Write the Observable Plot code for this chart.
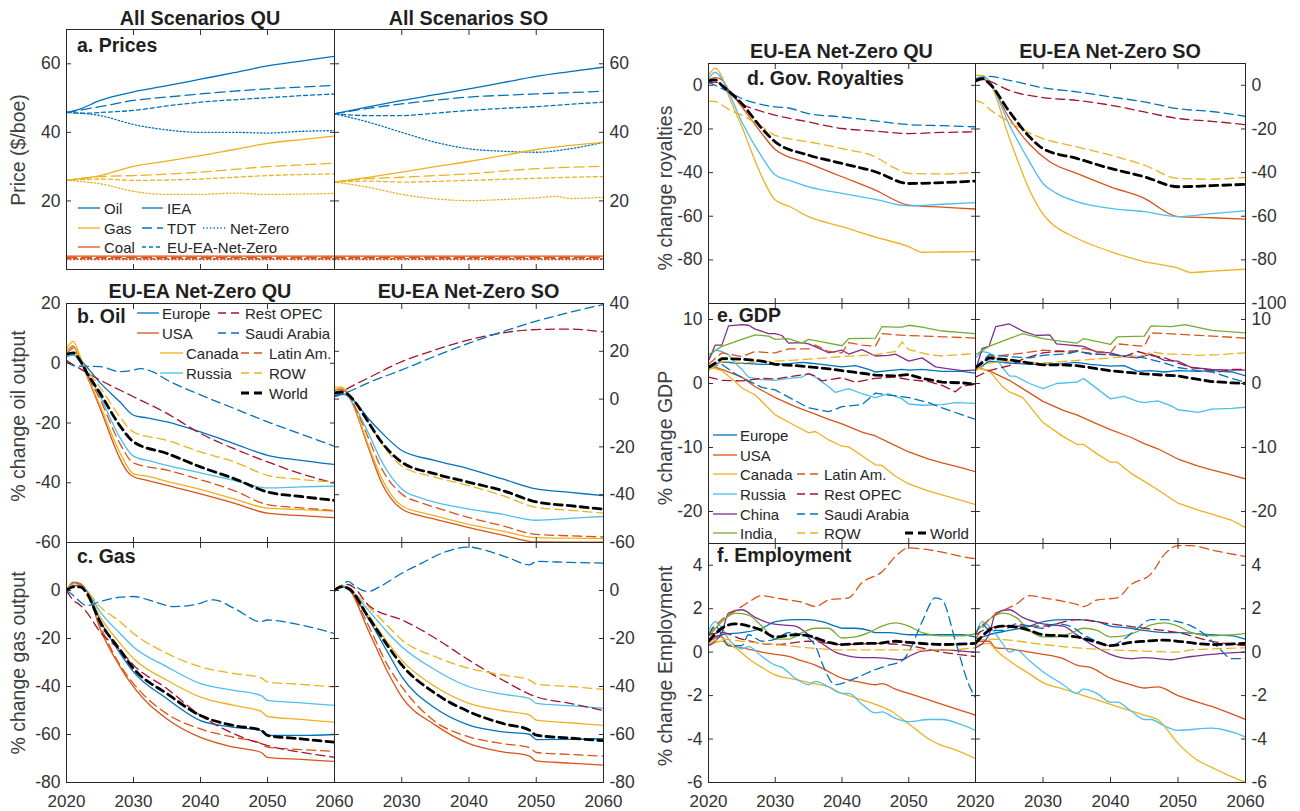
<!DOCTYPE html>
<html><head><meta charset="utf-8">
<script src="https://cdn.jsdelivr.net/npm/d3@7"></script>
<script src="https://cdn.jsdelivr.net/npm/@observablehq/plot@0.6"></script>
<style>
body{margin:0;background:#fff;}
#fig{position:relative;width:1300px;height:811px;overflow:hidden;background:#fff}
#fig svg{position:absolute;background:transparent;}
</style></head>
<body><div id="fig"></div>
<script>
// ---------------- DATA ----------------
const xTicks = [2020, 2030, 2040, 2050, 2060];

// a. Prices ($/boe)
const priceQU = {
  "Oil IEA": [[2020,45.8],[2022,46.8],[2025,49.3],[2030,51.8],[2035,53.6],[2040,55.5],[2045,57.4],[2050,59.4],[2055,60.8],[2060,62.2]],
  "Oil TDT": [[2020,45.8],[2025,47.5],[2030,49.3],[2035,50.3],[2040,51.2],[2045,52],[2050,52.7],[2055,53.2],[2060,53.7]],
  "Oil EU-EA-Net-Zero": [[2020,45.8],[2023,45.6],[2026,45.9],[2030,46.4],[2035,47.7],[2040,48.8],[2045,49.5],[2050,50.1],[2055,50.7],[2060,51.2]],
  "Oil Net-Zero": [[2020,45.8],[2025,44.9],[2030,42.3],[2035,40.7],[2040,40.0],[2045,40.0],[2050,39.8],[2055,40.3],[2060,40.5]],
  "Gas IEA": [[2020,26],[2025,27.4],[2030,30.1],[2035,31.6],[2040,33.2],[2045,35],[2050,36.8],[2055,37.9],[2060,38.9]],
  "Gas TDT": [[2020,26],[2025,27.1],[2030,27.4],[2035,27.8],[2040,28.4],[2045,29.2],[2050,30],[2055,30.5],[2060,31]],
  "Gas EU-EA-Net-Zero": [[2020,26],[2025,26.4],[2030,26],[2035,26.1],[2040,26.4],[2045,26.9],[2050,27.4],[2055,27.7],[2060,27.9]],
  "Gas Net-Zero": [[2020,26],[2025,25],[2030,22.8],[2035,21.9],[2040,21.9],[2045,22.3],[2050,21.9],[2055,22],[2060,22.2]],
  "Coal IEA": [[2020,3.9],[2060,3.9]],
  "Coal TDT": [[2020,3.5],[2060,3.5]],
  "Coal EU-EA-Net-Zero": [[2020,3.2],[2060,3.2]],
  "Coal Net-Zero": [[2020,2.9],[2060,2.9]]
};
const priceSO = {
  "Oil IEA": [[2020,45.4],[2025,47.4],[2030,49.3],[2035,51],[2040,52.7],[2045,54.5],[2050,56.3],[2055,57.7],[2060,59.0]],
  "Oil TDT": [[2020,45.4],[2025,47],[2030,48.3],[2035,49.4],[2040,50.3],[2045,50.8],[2050,51.2],[2055,51.6],[2060,52.0]],
  "Oil EU-EA-Net-Zero": [[2020,45.4],[2025,44.9],[2030,44.9],[2035,45.6],[2040,46.4],[2045,47],[2050,47.5],[2055,48.2],[2060,48.8]],
  "Oil Net-Zero": [[2020,45.4],[2025,43.0],[2030,40.0],[2035,37.1],[2040,35.2],[2045,34.5],[2050,34.2],[2055,35.2],[2060,37.1]],
  "Gas IEA": [[2020,25.5],[2025,26.9],[2030,28.4],[2035,30],[2040,31.5],[2045,33.2],[2050,35],[2055,36.2],[2060,37.1]],
  "Gas TDT": [[2020,25.5],[2025,26.5],[2030,26.9],[2035,27.4],[2040,27.9],[2045,28.7],[2050,29.4],[2055,29.8],[2060,30.1]],
  "Gas EU-EA-Net-Zero": [[2020,25.5],[2025,25.8],[2030,25.5],[2035,25.7],[2040,26],[2045,26.3],[2050,26.6],[2055,26.9],[2060,27.1]],
  "Gas Net-Zero": [[2020,25.5],[2025,24.0],[2030,21.9],[2035,20.6],[2040,20.1],[2045,20.4],[2050,20.9],[2053,21.3],[2055,20.7],[2060,21.1]],
  "Coal IEA": [[2020,3.9],[2060,3.9]],
  "Coal TDT": [[2020,3.5],[2060,3.5]],
  "Coal EU-EA-Net-Zero": [[2020,3.2],[2060,3.2]],
  "Coal Net-Zero": [[2020,2.9],[2060,2.9]]
};

// b. Oil output (% change)
const oilQU = {
  Europe: [[2020,2.2],[2021,2.8],[2022,1.2],[2025,-6.5],[2028,-13],[2030,-17.4],[2032,-18.3],[2035,-19.6],[2040,-23],[2045,-26.9],[2050,-30.8],[2055,-32.5],[2060,-33.9]],
  USA: [[2020,4],[2021,5.6],[2022,1.5],[2023,-4],[2025,-15],[2028,-32],[2029,-36],[2030,-38],[2032,-39.2],[2035,-40.9],[2040,-43.7],[2045,-46.8],[2050,-50.2],[2055,-51],[2060,-51.7]],
  Canada: [[2020,5],[2021,7.3],[2022,2.5],[2023,-3.5],[2025,-14],[2028,-30],[2030,-37],[2032,-37.8],[2035,-39.5],[2040,-42.2],[2045,-45.4],[2050,-48.5],[2055,-49],[2060,-49.5]],
  Russia: [[2020,2.2],[2021,3],[2022,0.5],[2023,-3],[2025,-11],[2028,-25],[2030,-31.1],[2033,-33],[2035,-34.2],[2040,-36.7],[2045,-39.2],[2050,-41.7],[2055,-41.4],[2060,-41.1]],
  "Latin Am.": [[2020,3],[2021,5],[2022,1],[2023,-3.5],[2025,-12],[2028,-27],[2030,-33.4],[2035,-35.8],[2040,-39],[2045,-42.6],[2050,-47.3],[2055,-48.4],[2060,-49.3]],
  "Rest OPEC": [[2020,1],[2021,-0.5],[2022,-1.8],[2025,-5.6],[2030,-11.2],[2035,-16.8],[2040,-23.5],[2045,-28.6],[2050,-33],[2055,-37],[2060,-40.1]],
  "Saudi Arabia": [[2020,0.5],[2021,-0.8],[2022,-1],[2025,-1.1],[2028,-2.8],[2030,-2.3],[2031,-1.8],[2033,-3],[2035,-5.6],[2040,-10.6],[2045,-15.1],[2050,-19.6],[2055,-23.7],[2060,-27.8]],
  ROW: [[2020,4],[2021,6],[2022,1.5],[2023,-2],[2025,-8],[2028,-18],[2030,-23],[2035,-25.8],[2040,-29.7],[2045,-33],[2050,-37.5],[2055,-38.9],[2060,-39.8]],
  World: [[2020,3],[2021,3.5],[2022,1],[2023,-3],[2025,-10],[2028,-21],[2030,-26.3],[2035,-30.2],[2040,-34.7],[2045,-38.6],[2050,-43.1],[2055,-44.6],[2060,-45.9]]
};
const oilSO = {
  Europe: [[2020,1.5],[2021,2],[2022,1.5],[2023,-1],[2025,-8],[2027,-14],[2030,-21.5],[2035,-25.7],[2040,-29.2],[2045,-33.4],[2050,-37.6],[2055,-39],[2060,-40.4]],
  USA: [[2020,4],[2021,4],[2022,2],[2023,-4],[2025,-20],[2027,-35],[2030,-46],[2033,-49],[2035,-50.3],[2040,-53.8],[2045,-56.9],[2050,-59.8],[2055,-59.9],[2060,-59.9]],
  Canada: [[2020,5],[2021,5],[2022,2.5],[2023,-3.5],[2025,-19],[2027,-33],[2030,-44.6],[2033,-47.5],[2035,-48.9],[2040,-52.4],[2045,-55.2],[2050,-58],[2055,-58.2],[2060,-58.4]],
  Russia: [[2020,2],[2021,2.5],[2022,1],[2023,-3],[2025,-14],[2027,-26],[2030,-37.6],[2033,-41.5],[2035,-43.2],[2040,-46],[2045,-48.2],[2050,-50.7],[2055,-49.9],[2060,-49.1]],
  "Latin Am.": [[2020,3.5],[2021,4.5],[2022,2],[2023,-3],[2025,-16],[2027,-29],[2030,-39.7],[2033,-43.5],[2035,-45.3],[2040,-49.6],[2045,-53],[2050,-56.6],[2055,-57.2],[2060,-57.7]],
  "Rest OPEC": [[2020,1],[2022,4.5],[2025,8.8],[2030,15.7],[2035,20.6],[2040,24.8],[2045,27.7],[2050,29.1],[2055,29.3],[2060,28.1]],
  "Saudi Arabia": [[2020,1],[2022,3],[2025,6.8],[2030,12.2],[2035,18],[2040,23.4],[2045,28.2],[2050,32.6],[2055,36.3],[2060,39.6]],
  ROW: [[2020,4],[2021,4.5],[2022,2.5],[2023,-1],[2025,-9.5],[2027,-18.5],[2030,-28],[2035,-32.7],[2040,-36.2],[2045,-40.4],[2050,-45.3],[2055,-46.5],[2060,-47.7]],
  World: [[2020,2.5],[2021,3],[2022,2],[2023,-1],[2025,-9.5],[2027,-18],[2030,-26.4],[2035,-31.3],[2040,-34.8],[2045,-38.3],[2050,-43],[2055,-44.6],[2060,-46]]
};

// c. Gas output (% change)
const gasQU = {
  Europe: [[2020,0],[2021,2],[2022,2],[2023,0],[2025,-12.3],[2028,-26.2],[2030,-33.9],[2035,-45.1],[2040,-54.2],[2045,-57],[2049,-58.4],[2050,-60.4],[2055,-60.4],[2060,-60]],
  USA: [[2020,0],[2021,3.5],[2022,3],[2023,0],[2025,-15.8],[2028,-31.8],[2030,-40.2],[2035,-53.5],[2040,-61.2],[2045,-65.3],[2049,-67.4],[2050,-69.5],[2055,-70.4],[2060,-71.2]],
  Canada: [[2020,0],[2021,3],[2022,2.5],[2023,0],[2025,-10.9],[2028,-22],[2030,-28.3],[2035,-37.4],[2040,-44.4],[2045,-47.9],[2049,-50.3],[2050,-52.5],[2055,-53.7],[2060,-54.9]],
  Russia: [[2020,0],[2021,3],[2022,2.5],[2023,0],[2025,-8.8],[2028,-17.9],[2030,-23.5],[2035,-31.8],[2040,-38.8],[2045,-41.6],[2049,-43.7],[2050,-45.8],[2055,-46.8],[2060,-47.9]],
  "Latin Am.": [[2020,0],[2021,3],[2022,2.5],[2023,0],[2025,-14.4],[2028,-31.1],[2030,-38.8],[2035,-51.4],[2040,-57.7],[2045,-61.2],[2049,-63.7],[2050,-65.3],[2055,-66.3],[2060,-67]],
  "Rest OPEC": [[2020,0],[2021,-4],[2022,-6],[2023,-9],[2025,-17.2],[2028,-24.8],[2030,-31.1],[2035,-40.9],[2040,-52.1],[2045,-59.7],[2050,-64.6],[2055,-67.4],[2060,-69.5]],
  "Saudi Arabia": [[2020,0],[2021,-2],[2022,-4.6],[2023,-6.3],[2025,-4.6],[2028,-2.8],[2030,-2.5],[2033,-4.6],[2036,-6.7],[2039,-6],[2042,-3.9],[2045,-7.4],[2049,-13],[2050,-12.3],[2055,-14.4],[2060,-17.9]],
  ROW: [[2020,0],[2021,2.5],[2022,2],[2023,0],[2025,-6.7],[2028,-13],[2030,-17.9],[2035,-26.2],[2040,-31.8],[2045,-34.6],[2049,-36.3],[2050,-38.1],[2055,-39.1],[2060,-40.2]],
  World: [[2020,0],[2021,1.5],[2022,1.5],[2023,-1],[2025,-13],[2028,-24.8],[2030,-32.5],[2035,-43],[2040,-52.1],[2045,-56.3],[2049,-58.1],[2050,-60.4],[2055,-61.8],[2060,-63.2]]
};
const gasSO = {
  Europe: [[2020,0],[2021,1.5],[2022,0.5],[2025,-11.6],[2028,-26.2],[2030,-35.9],[2035,-49.1],[2040,-56.1],[2045,-58.9],[2049,-59.9],[2050,-62.1],[2055,-62],[2060,-61.7]],
  USA: [[2020,0],[2021,2],[2022,1],[2025,-16.4],[2028,-34.5],[2030,-44.3],[2035,-56.1],[2040,-63.8],[2045,-67.2],[2049,-69],[2050,-71],[2055,-71.9],[2060,-72.8]],
  Canada: [[2020,0],[2021,2],[2022,1],[2025,-10.2],[2028,-22],[2030,-29],[2035,-40.1],[2040,-47],[2045,-50.1],[2049,-51.9],[2050,-54],[2055,-55.1],[2060,-56.2]],
  Russia: [[2020,0],[2021,2],[2022,1],[2025,-8.1],[2028,-17.8],[2030,-23.4],[2035,-33.1],[2040,-40.1],[2045,-43.2],[2049,-45],[2050,-47],[2055,-48],[2060,-49.1]],
  "Latin Am.": [[2020,0],[2021,2],[2022,1],[2025,-14.3],[2028,-31.7],[2030,-40.1],[2035,-54.7],[2040,-61],[2045,-63.8],[2049,-65.4],[2050,-67.5],[2055,-68.3],[2060,-69]],
  "Rest OPEC": [[2020,0],[2021,2],[2022,2.5],[2023,1],[2025,-6],[2026,-8],[2030,-12.2],[2035,-19.9],[2040,-29],[2045,-37.3],[2050,-44.3],[2055,-47],[2060,-50.1]],
  "Saudi Arabia": [[2020,0],[2021,2],[2022,3.8],[2023,2],[2024,0.3],[2025,-0.4],[2027,2],[2030,7.2],[2033,11.4],[2036,15.6],[2040,18.1],[2043,16.3],[2046,13.5],[2049,10.7],[2050,12.1],[2055,11.7],[2060,11.4]],
  ROW: [[2020,0],[2021,2],[2022,1],[2025,-6.7],[2028,-15],[2030,-20.6],[2035,-27.6],[2040,-32.4],[2045,-35.2],[2049,-37.3],[2050,-39],[2055,-40],[2060,-41.2]],
  World: [[2020,0],[2021,1.5],[2022,1],[2025,-10.9],[2028,-23.4],[2030,-31],[2035,-42.9],[2040,-50.5],[2045,-55.4],[2049,-58.2],[2050,-60.3],[2055,-61.5],[2060,-62.6]]
};

// d. Government royalties (% change)
const royQU = {
  USA: [[2020,2.5],[2021,3.5],[2022,2.5],[2023,-2],[2025,-9.9],[2028,-22.1],[2030,-29.4],[2035,-35.8],[2040,-41.9],[2045,-48],[2050,-54.9],[2055,-55.8],[2060,-56.7]],
  Canada: [[2020,4.5],[2021,7.9],[2022,4],[2023,-4.6],[2025,-19],[2028,-41.9],[2030,-52.6],[2032,-55.3],[2035,-60.2],[2040,-64.8],[2045,-69.6],[2050,-73.9],[2052,-76.5],[2055,-76.4],[2060,-76.2]],
  Russia: [[2020,3],[2021,6],[2022,3],[2023,-3],[2025,-16.8],[2028,-32.8],[2030,-41.1],[2032,-43.4],[2035,-46.5],[2040,-49.5],[2045,-52.3],[2050,-55.3],[2055,-54.5],[2060,-53.8]],
  "Rest OPEC": [[2020,1],[2021,1.5],[2022,0],[2025,-8.4],[2028,-12],[2030,-13.7],[2035,-16.8],[2040,-19.8],[2045,-21],[2050,-22.1],[2055,-21.6],[2060,-21.3]],
  "Saudi Arabia": [[2020,1.5],[2021,0],[2023,-3],[2025,-6.1],[2028,-8.8],[2030,-9.9],[2032,-10.4],[2035,-13],[2040,-14.5],[2045,-16.3],[2050,-18],[2055,-18.5],[2060,-19]],
  ROW: [[2020,-7.2],[2021,-7.5],[2022,-9],[2023,-11],[2025,-13.7],[2028,-19],[2030,-22.9],[2035,-25.9],[2040,-29],[2045,-32.8],[2048,-38.1],[2050,-40.4],[2055,-40.6],[2060,-39.9]],
  World: [[2020,2],[2021,2.5],[2022,0],[2025,-8.4],[2028,-19.8],[2030,-25.9],[2035,-32],[2040,-35.8],[2045,-39.6],[2050,-45],[2055,-44.6],[2060,-43.9]]
};
const roySO = {
  USA: [[2020,2],[2021,3],[2022,1],[2025,-15],[2028,-27],[2031,-35],[2035,-40.4],[2040,-46.5],[2045,-51.8],[2050,-60.2],[2055,-60.7],[2060,-61.3]],
  Canada: [[2020,4.5],[2021,4.5],[2022,2],[2025,-24],[2028,-48],[2030,-59],[2031,-62.5],[2035,-70.1],[2040,-76.2],[2045,-80.8],[2050,-83.8],[2052,-85.8],[2055,-85.2],[2060,-84.3]],
  Russia: [[2020,3],[2021,4],[2022,2],[2025,-18],[2028,-35],[2030,-45],[2032,-49.5],[2035,-53.3],[2040,-56.4],[2045,-57.9],[2050,-60.2],[2055,-58.8],[2060,-57.5]],
  "Rest OPEC": [[2020,2],[2021,3],[2022,2],[2025,-2.3],[2030,-5.6],[2035,-6.9],[2040,-9.1],[2045,-12.2],[2050,-15.2],[2055,-16.5],[2060,-18]],
  "Saudi Arabia": [[2020,3],[2021,3.5],[2022,4.1],[2025,2.3],[2030,-1.1],[2035,-3],[2040,-5.3],[2045,-7.6],[2050,-10.7],[2055,-12],[2060,-14.2]],
  ROW: [[2020,-7],[2021,-8],[2022,-10.7],[2025,-16.8],[2030,-24.4],[2035,-28.2],[2040,-32],[2045,-36.6],[2050,-42.7],[2055,-43],[2060,-42.2]],
  World: [[2020,2],[2021,3],[2022,1],[2025,-12],[2028,-23.6],[2030,-29],[2035,-33.5],[2040,-38.1],[2045,-41.9],[2050,-46.5],[2055,-46],[2060,-45.4]]
};

// e. GDP (% change)
const gdpQU = {
  Europe: [[2020,2.4],[2021,3.0],[2022,3.4],[2024,3.2],[2026,3.1],[2028,3.0],[2030,3.0],[2032,3.1],[2034,3.3],[2035,3.2],[2037,3.0],[2040,2.6],[2042,2.8],[2044,2.2],[2045,1.8],[2047,2.0],[2049,2.2],[2050,2.1],[2052,2.2],[2055,1.9],[2058,1.9],[2060,1.6]],
  USA: [[2020,2.9],[2022,2.2],[2025,1.0],[2027,-0.5],[2030,-2.2],[2033,-3.6],[2035,-4.4],[2038,-5.6],[2040,-6.3],[2043,-7.6],[2045,-8.2],[2047,-9.2],[2050,-10.7],[2053,-11.8],[2055,-12.4],[2058,-13.2],[2060,-13.8]],
  Canada: [[2020,2.6],[2022,2.0],[2024,0.3],[2025,-0.7],[2027,-1.8],[2030,-4.9],[2033,-6.6],[2035,-7.7],[2036,-7.5],[2038,-8.8],[2040,-9.8],[2041,-9.9],[2043,-11.3],[2045,-12.7],[2046,-12.8],[2048,-14.5],[2050,-15.7],[2053,-16.8],[2055,-17.4],[2058,-18.3],[2060,-18.9]],
  Russia: [[2020,4.0],[2021,5.2],[2022,5.0],[2023,4.5],[2024,3.2],[2025,2.2],[2026,1.0],[2028,0.6],[2030,0.5],[2032,0.8],[2034,1.0],[2035,1.6],[2036,1.0],[2038,-0.5],[2039,-1.4],[2041,-0.8],[2043,-1.6],[2045,-2.2],[2047,-1.6],[2049,-2.4],[2050,-3.2],[2052,-3.4],[2055,-3.3],[2057,-3.0],[2060,-3.1]],
  China: [[2020,3.5],[2021,6.0],[2022,6.0],[2023,9.0],[2025,9.2],[2026,9.1],[2027,8.5],[2029,7.8],[2030,7.8],[2031,7.5],[2032,6.3],[2034,6.4],[2035,6.2],[2037,5.3],[2038,4.8],[2040,5.2],[2041,4.6],[2043,5.3],[2045,4.3],[2047,4.4],[2048,4.6],[2050,3.5],[2052,4.0],[2054,2.6],[2056,2.3],[2058,2.0],[2060,2.1]],
  India: [[2020,4.5],[2022,5.8],[2025,6.9],[2027,7.6],[2029,7.4],[2030,6.9],[2032,7.0],[2034,6.3],[2035,6.9],[2037,6.5],[2040,5.9],[2041,7.0],[2045,7.1],[2046,8.9],[2048,8.8],[2049,8.8],[2050,9.1],[2052,8.8],[2055,8.2],[2060,7.8]],
  "Latin Am.": [[2020,3.0],[2022,4.8],[2024,4.4],[2025,4.2],[2027,5.0],[2029,4.8],[2030,4.8],[2032,5.4],[2035,5.4],[2036,6.0],[2038,5.0],[2040,4.8],[2041,6.4],[2043,6.0],[2045,5.8],[2046,7.8],[2048,7.6],[2050,7.5],[2055,7.3],[2060,7.1]],
  "Rest OPEC": [[2020,1.0],[2022,0.5],[2025,0.4],[2028,0.8],[2030,0.7],[2033,1.2],[2035,1.5],[2036,1.2],[2037,0.4],[2040,0.9],[2042,0.2],[2045,0.8],[2048,1.0],[2050,0.6],[2053,0.3],[2055,-0.3],[2057,-1.3],[2058,-0.4],[2060,-0.1]],
  "Saudi Arabia": [[2020,2.5],[2022,3.0],[2024,1.5],[2026,0.4],[2028,-0.6],[2030,-1.0],[2033,-2.7],[2035,-3.8],[2038,-4.4],[2040,-3.6],[2043,-3.3],[2045,-1.5],[2047,-1.8],[2050,-2.2],[2053,-3.0],[2055,-3.8],[2058,-4.9],[2060,-5.6]],
  ROW: [[2020,2.0],[2022,3.5],[2025,3.2],[2030,3.5],[2035,3.8],[2040,4.2],[2045,4.5],[2048,5.0],[2049,6.5],[2050,5.3],[2053,4.5],[2055,4.3],[2060,4.7]],
  World: [[2020,2.5],[2022,3.9],[2025,3.8],[2028,3.5],[2030,3.0],[2033,2.8],[2035,2.6],[2038,2.3],[2040,2.0],[2043,1.6],[2045,1.3],[2048,1.2],[2050,1.4],[2052,0.8],[2055,0.2],[2058,0.1],[2060,-0.1]]
};
const gdpSO = {
  Europe: [[2020,2.0],[2022,3.5],[2025,3.2],[2028,3.0],[2030,3.0],[2033,3.1],[2035,3.3],[2037,3.0],[2040,2.7],[2042,2.8],[2044,1.9],[2046,2.0],[2048,1.8],[2050,2.0],[2053,1.9],[2055,2.0],[2058,1.8],[2060,1.2]],
  USA: [[2020,2.5],[2022,2.0],[2025,0.5],[2027,-0.8],[2030,-2.8],[2033,-4.2],[2035,-4.9],[2038,-6.3],[2040,-7.2],[2043,-8.4],[2045,-9.4],[2047,-10.2],[2050,-11.8],[2053,-12.9],[2055,-13.5],[2058,-14.3],[2060,-14.9]],
  Canada: [[2020,2.5],[2022,2.0],[2024,-0.5],[2025,-1.3],[2027,-2.2],[2030,-6.1],[2033,-8.3],[2035,-9.5],[2036,-9.5],[2038,-11.0],[2040,-12.3],[2041,-12.3],[2043,-14.0],[2045,-15.3],[2047,-16.6],[2050,-18.7],[2053,-19.8],[2055,-20.4],[2058,-21.4],[2060,-22.5]],
  Russia: [[2020,4.0],[2021,5.0],[2022,4.8],[2023,4.0],[2024,2.5],[2025,1.2],[2026,1.1],[2028,0.0],[2030,-0.8],[2032,0.0],[2035,0.2],[2036,0.8],[2038,-0.8],[2040,-2.4],[2042,-2.0],[2044,-2.8],[2045,-3.0],[2047,-2.7],[2049,-3.5],[2050,-4.1],[2053,-4.5],[2055,-4.0],[2058,-3.9],[2060,-3.7]],
  China: [[2020,2.0],[2021,5.5],[2022,5.8],[2023,8.9],[2025,9.3],[2027,8.2],[2029,7.5],[2031,7.6],[2032,6.2],[2034,6.0],[2035,5.9],[2036,5.8],[2038,4.9],[2040,4.8],[2042,4.2],[2044,4.0],[2046,4.6],[2048,3.6],[2050,3.5],[2052,2.5],[2055,2.2],[2058,2.1],[2060,2.1]],
  India: [[2020,4.5],[2022,5.8],[2025,7.0],[2027,7.8],[2030,7.0],[2032,6.7],[2035,6.3],[2036,7.0],[2040,6.1],[2041,7.3],[2045,7.4],[2046,9.0],[2049,8.9],[2051,9.2],[2055,8.3],[2060,7.9]],
  "Latin Am.": [[2020,2.5],[2022,4.2],[2025,4.5],[2028,4.9],[2030,5.2],[2033,5.0],[2034,4.7],[2036,5.5],[2038,5.0],[2040,4.8],[2041,6.2],[2043,6.0],[2045,5.8],[2046,7.9],[2050,7.7],[2055,7.4],[2060,7.1]],
  "Rest OPEC": [[2020,1.0],[2022,2.0],[2025,2.8],[2027,3.8],[2030,4.8],[2032,5.0],[2035,5.1],[2037,4.6],[2040,4.5],[2042,4.2],[2044,5.0],[2046,4.4],[2048,4.0],[2050,3.2],[2052,2.5],[2054,2.2],[2056,1.8],[2058,2.2],[2060,2.2]],
  "Saudi Arabia": [[2020,2.5],[2022,4.5],[2025,4.2],[2028,4.0],[2030,4.4],[2033,4.6],[2035,5.0],[2038,4.6],[2040,4.5],[2043,4.3],[2045,4.0],[2048,3.2],[2050,2.5],[2053,2.0],[2055,1.8],[2058,0.8],[2060,0.2]],
  ROW: [[2020,2.0],[2022,3.2],[2025,3.5],[2030,3.2],[2035,3.6],[2040,4.0],[2045,4.4],[2046,5.0],[2048,4.6],[2050,4.6],[2053,4.4],[2056,4.5],[2060,4.8]],
  World: [[2020,2.5],[2022,4.0],[2025,3.7],[2028,3.2],[2030,2.9],[2033,2.9],[2035,2.8],[2038,2.3],[2040,2.0],[2043,1.7],[2045,1.5],[2048,1.3],[2050,1.2],[2052,0.8],[2055,0.3],[2058,0.1],[2060,0.0]]
};

// f. Employment (% change)
const empQU = {
  Europe: [[2020,0.6],[2022,0.8],[2025,0.9],[2028,1.1],[2030,1.4],[2033,1.5],[2035,1.5],[2037,1.4],[2039,1.2],[2040,1.1],[2042,1.1],[2044,1.0],[2045,0.9],[2047,0.9],[2050,0.8],[2055,0.8],[2058,0.8],[2060,0.7]],
  USA: [[2020,0.5],[2022,0.7],[2023,0.3],[2025,0.2],[2028,0.0],[2030,-0.1],[2032,-0.2],[2034,-0.4],[2036,-0.6],[2038,-0.9],[2040,-1.2],[2043,-1.4],[2045,-1.5],[2046,-1.45],[2048,-1.7],[2050,-1.9],[2053,-2.2],[2055,-2.4],[2058,-2.7],[2060,-2.9]],
  Canada: [[2020,0.3],[2021,0.45],[2022,0.5],[2024,0.2],[2026,-0.3],[2028,-0.7],[2030,-1.05],[2033,-1.25],[2035,-1.4],[2038,-1.6],[2040,-1.9],[2042,-2.1],[2045,-2.4],[2047,-2.65],[2050,-3.3],[2053,-4.0],[2055,-4.3],[2057,-4.5],[2060,-4.9]],
  Russia: [[2020,1.0],[2021,1.4],[2022,1.1],[2023,0.6],[2024,0.3],[2025,0.15],[2026,0.25],[2028,-0.2],[2030,-0.6],[2031,-0.7],[2033,-1.2],[2035,-1.5],[2036,-1.35],[2038,-1.6],[2040,-1.9],[2041,-1.9],[2043,-2.4],[2045,-2.8],[2046,-2.75],[2048,-3.05],[2050,-3.2],[2053,-3.1],[2055,-3.1],[2058,-3.35],[2060,-3.6]],
  China: [[2020,0.3],[2021,0.5],[2022,0.9],[2023,1.8],[2025,1.95],[2027,1.6],[2029,1.35],[2031,1.25],[2033,1.2],[2035,0.8],[2037,0.4],[2039,0.0],[2040,-0.1],[2043,-0.25],[2045,-0.25],[2047,-0.3],[2049,-0.35],[2050,-0.2],[2052,0.05],[2055,0.1],[2058,0.05],[2060,0.0]],
  India: [[2020,0.7],[2022,1.4],[2024,1.8],[2026,1.7],[2028,1.2],[2030,0.6],[2032,0.6],[2034,0.9],[2036,1.1],[2038,1.1],[2040,0.65],[2042,0.7],[2044,0.9],[2046,1.2],[2048,1.35],[2050,1.2],[2052,0.9],[2055,0.75],[2058,0.75],[2060,0.85]],
  "Latin Am.": [[2020,0.8],[2022,1.5],[2024,1.9],[2026,2.3],[2028,2.6],[2030,2.5],[2032,2.4],[2034,2.3],[2036,2.1],[2038,2.4],[2041,2.5],[2043,3.2],[2046,3.7],[2048,4.4],[2050,4.8],[2052,4.75],[2055,4.6],[2058,4.4],[2060,4.3]],
  "Rest OPEC": [[2020,0.8],[2022,0.9],[2025,0.6],[2030,0.35],[2035,0.5],[2040,0.35],[2045,0.4],[2050,0.3],[2055,0.0],[2060,-0.2]],
  "Saudi Arabia": [[2020,0.8],[2021,1.2],[2023,0.3],[2025,0.3],[2026,0.8],[2028,0.5],[2030,0.6],[2032,0.9],[2034,0.8],[2036,0.3],[2037,-0.5],[2039,-1.5],[2042,-1.2],[2045,-0.8],[2047,-0.6],[2049,-0.4],[2050,0.0],[2052,1.4],[2054,2.5],[2055,2.4],[2057,0.5],[2059,-1.5],[2060,-2.1]],
  ROW: [[2020,0.4],[2022,0.6],[2025,0.5],[2030,0.35],[2035,0.2],[2040,0.1],[2045,0.1],[2050,0.1],[2055,0.1],[2060,0.2]],
  World: [[2020,0.5],[2022,1.1],[2024,1.3],[2026,1.2],[2028,1.0],[2030,0.7],[2033,0.8],[2035,0.75],[2038,0.45],[2040,0.35],[2043,0.4],[2045,0.4],[2048,0.5],[2050,0.45],[2055,0.35],[2060,0.4]]
};
const empSO = {
  Europe: [[2020,0.6],[2022,0.8],[2025,1.0],[2028,1.2],[2030,1.4],[2033,1.5],[2035,1.5],[2038,1.4],[2040,1.2],[2043,1.1],[2045,1.0],[2048,0.9],[2050,0.9],[2055,0.8],[2058,0.75],[2060,0.6]],
  USA: [[2020,0.5],[2022,0.5],[2023,0.2],[2025,0.15],[2028,0.0],[2030,-0.1],[2033,-0.3],[2035,-0.6],[2037,-0.7],[2040,-1.2],[2043,-1.5],[2045,-1.65],[2047,-1.6],[2050,-2.0],[2055,-2.5],[2060,-3.1]],
  Canada: [[2020,0.3],[2022,0.4],[2023,0.1],[2025,-0.4],[2028,-1.0],[2030,-1.4],[2033,-1.7],[2035,-1.9],[2038,-2.2],[2040,-2.4],[2043,-2.7],[2045,-2.9],[2047,-3.1],[2050,-4.2],[2053,-5.0],[2055,-5.3],[2057,-5.6],[2060,-6.0]],
  Russia: [[2020,0.8],[2021,1.4],[2022,1.2],[2024,0.4],[2025,0.0],[2026,0.1],[2028,-0.4],[2030,-0.9],[2033,-1.5],[2035,-1.9],[2036,-1.7],[2038,-1.9],[2040,-2.3],[2041,-2.3],[2043,-2.7],[2045,-3.1],[2046,-3.1],[2048,-3.4],[2050,-3.6],[2055,-3.5],[2060,-3.9]],
  China: [[2020,0.2],[2022,0.8],[2023,1.8],[2025,1.95],[2027,1.6],[2030,1.3],[2033,1.2],[2035,0.8],[2038,0.2],[2040,-0.1],[2043,-0.3],[2045,-0.25],[2049,-0.35],[2050,-0.3],[2052,-0.2],[2055,-0.1],[2060,0.0]],
  India: [[2020,0.9],[2022,1.5],[2024,1.8],[2026,1.6],[2028,1.0],[2030,0.7],[2032,0.7],[2034,0.85],[2036,1.1],[2038,1.0],[2040,0.7],[2042,0.75],[2044,0.95],[2046,1.25],[2048,1.35],[2050,1.2],[2052,0.9],[2055,0.75],[2060,0.85]],
  "Latin Am.": [[2020,0.6],[2022,1.5],[2024,1.9],[2026,2.2],[2028,2.6],[2030,2.5],[2032,2.4],[2035,2.2],[2036,2.1],[2038,2.4],[2041,2.5],[2043,3.1],[2046,3.6],[2048,4.5],[2050,4.9],[2052,4.9],[2055,4.7],[2060,4.4]],
  "Rest OPEC": [[2020,0.8],[2022,1.1],[2025,1.2],[2030,1.2],[2035,1.5],[2040,1.3],[2045,1.1],[2050,0.9],[2055,0.5],[2060,0.3]],
  "Saudi Arabia": [[2020,0.8],[2021,1.3],[2022,1.0],[2024,1.0],[2026,1.3],[2028,1.2],[2030,1.1],[2032,1.3],[2034,1.2],[2036,0.8],[2038,0.5],[2040,0.3],[2042,0.6],[2044,1.1],[2046,1.5],[2048,1.5],[2050,1.4],[2052,1.2],[2054,0.8],[2056,0.2],[2058,-0.3],[2060,-0.3]],
  ROW: [[2020,0.5],[2022,0.6],[2025,0.55],[2030,0.35],[2035,0.2],[2040,0.1],[2045,0.05],[2050,0.0],[2052,0.1],[2055,0.15],[2060,0.2]],
  World: [[2020,0.4],[2022,1.0],[2024,1.2],[2026,1.15],[2028,1.0],[2030,0.8],[2033,0.75],[2035,0.7],[2038,0.45],[2040,0.3],[2043,0.45],[2045,0.5],[2048,0.55],[2050,0.5],[2055,0.35],[2060,0.4]]
};

// ---------------- STYLES ----------------
const COL = {blue:"#0072BD", orange:"#D95319", yellow:"#EDB120", purple:"#7E2F8E", green:"#77AC30", cyan:"#4DBEEE", red:"#A2142F", black:"#000000"};
const DASH = "9,5";
const regionStyle = {
  Europe: {color: COL.blue}, USA: {color: COL.orange}, Canada: {color: COL.yellow},
  Russia: {color: COL.cyan}, China: {color: COL.purple}, India: {color: COL.green},
  "Latin Am.": {color: COL.orange, dash: DASH}, "Rest OPEC": {color: COL.red, dash: DASH},
  "Saudi Arabia": {color: COL.blue, dash: DASH}, ROW: {color: COL.yellow, dash: DASH},
  World: {color: COL.black, dash: "8,5", w: 2.8}
};
const scenDash = {IEA: null, TDT: "10,5", "EU-EA-Net-Zero": "4,3", "Net-Zero": "1.3,2.2"};
const fuelColor = {Oil: COL.blue, Gas: COL.yellow, Coal: COL.orange};
const priceStyle = {};
for (const f of Object.keys(fuelColor)) for (const s of Object.keys(scenDash)) priceStyle[f + " " + s] = {color: fuelColor[f], dash: scenDash[s]};

// ---------------- LAYOUT ----------------
const FONT = "Helvetica, 'Liberation Sans', Arial, sans-serif";
const fig = document.getElementById("fig");
const M = 60;
const LX = [66, 334, 603], RX = [708, 975, 1245];

function panel(cfg) {
  const {data, styles, x0, x1, y0, y1, yDomain, yTicks, leftLabels, rightLabels, xLabels, curve = "monotone-x"} = cfg;
  const fmt = (set) => (d) => (set && set.includes(d)) ? String(d) : "";
  const marks = Object.keys(data).map((name) => {
    const s = styles[name];
    return Plot.line(data[name], {x: (d) => d[0], y: (d) => d[1], stroke: s.color, strokeWidth: s.w || 1.3,
      strokeDasharray: s.dash || undefined, curve, clip: true});
  });
  marks.push(
    Plot.axisX({ticks: xTicks, anchor: "bottom", tickSize: -5, tickPadding: 17, tickFormat: fmt(xLabels), label: null, fontSize: 17}),
    Plot.axisX({ticks: xTicks, anchor: "top", tickSize: -5, tickFormat: () => "", label: null}),
    Plot.axisY({ticks: yTicks, anchor: "left", tickSize: -5, tickPadding: 11, tickFormat: fmt(leftLabels), label: null, fontSize: 17.5}),
    Plot.axisY({ticks: yTicks, anchor: "right", tickSize: -5, tickPadding: 11, tickFormat: fmt(rightLabels), label: null, fontSize: 17.5}),
    Plot.frame({stroke: "#262626", strokeWidth: 1})
  );
  const svg = Plot.plot({
    width: x1 - x0 + 2 * M, height: y1 - y0 + 2 * M, margin: M,
    x: {domain: [2020, 2060]}, y: {domain: yDomain},
    style: {fontFamily: FONT, fontSize: "17.5px", color: "#333333", background: "transparent", overflow: "visible"},
    marks
  });
  svg.style.left = (x0 - M) + "px";
  svg.style.top = (y0 - M) + "px";
  fig.appendChild(svg);
}

// a
panel({data: priceQU, styles: priceStyle, x0: LX[0], x1: LX[1], y0: 29, y1: 269, yDomain: [0, 70], yTicks: [0, 20, 40, 60], leftLabels: [20, 40, 60]});
panel({data: priceSO, styles: priceStyle, x0: LX[1], x1: LX[2], y0: 29, y1: 269, yDomain: [0, 70], yTicks: [0, 20, 40, 60], rightLabels: [20, 40, 60]});
// b
panel({data: oilQU, styles: regionStyle, x0: LX[0], x1: LX[1], y0: 303, y1: 542, yDomain: [-60, 20], yTicks: [-60, -40, -20, 0, 20], leftLabels: [-60, -40, -20, 0, 20]});
panel({data: oilSO, styles: regionStyle, x0: LX[1], x1: LX[2], y0: 303, y1: 542, yDomain: [-60, 40], yTicks: [-60, -40, -20, 0, 20, 40], rightLabels: [-60, -40, -20, 0, 20, 40]});
// c
panel({data: gasQU, styles: regionStyle, x0: LX[0], x1: LX[1], y0: 542, y1: 782, yDomain: [-80, 20], yTicks: [-80, -60, -40, -20, 0, 20], leftLabels: [-80, -60, -40, -20, 0], xLabels: [2020, 2030, 2040, 2050, 2060]});
panel({data: gasSO, styles: regionStyle, x0: LX[1], x1: LX[2], y0: 542, y1: 782, yDomain: [-80, 20], yTicks: [-80, -60, -40, -20, 0, 20], rightLabels: [-80, -60, -40, -20, 0], xLabels: [2030, 2040, 2050, 2060]});
// d
panel({data: royQU, styles: regionStyle, x0: RX[0], x1: RX[1], y0: 63, y1: 303, yDomain: [-100, 10], yTicks: [-100, -80, -60, -40, -20, 0], leftLabels: [-80, -60, -40, -20, 0]});
panel({data: roySO, styles: regionStyle, x0: RX[1], x1: RX[2], y0: 63, y1: 303, yDomain: [-100, 10], yTicks: [-100, -80, -60, -40, -20, 0], rightLabels: [-100, -80, -60, -40, -20, 0]});
// e
panel({data: gdpQU, styles: regionStyle, x0: RX[0], x1: RX[1], y0: 303, y1: 543, yDomain: [-25, 12.5], yTicks: [-20, -10, 0, 10], leftLabels: [-20, -10, 0, 10], curve: "linear"});
panel({data: gdpSO, styles: regionStyle, x0: RX[1], x1: RX[2], y0: 303, y1: 543, yDomain: [-25, 12.5], yTicks: [-20, -10, 0, 10], rightLabels: [-20, -10, 0, 10], curve: "linear"});
// f
panel({data: empQU, styles: regionStyle, x0: RX[0], x1: RX[1], y0: 543, y1: 782, yDomain: [-6, 5], yTicks: [-6, -4, -2, 0, 2, 4], leftLabels: [-6, -4, -2, 0, 2, 4], xLabels: [2020, 2030, 2040, 2050]});
panel({data: empSO, styles: regionStyle, x0: RX[1], x1: RX[2], y0: 543, y1: 782, yDomain: [-6, 5], yTicks: [-6, -4, -2, 0, 2, 4], rightLabels: [-6, -4, -2, 0, 2, 4], xLabels: [2020, 2030, 2040, 2050, 2060]});

// ---------------- ANNOTATIONS (titles, labels, legends) ----------------
const ov = d3.select(fig).append("svg").attr("width", 1300).attr("height", 811)
  .style("left", "0px").style("top", "0px").style("font-family", FONT).style("pointer-events", "none");

const titles = [
  ["All Scenarios QU", 200, 25], ["All Scenarios SO", 468.5, 25],
  ["EU-EA Net-Zero QU", 200, 298], ["EU-EA Net-Zero SO", 468.5, 298],
  ["EU-EA Net-Zero QU", 841.5, 58], ["EU-EA Net-Zero SO", 1110, 58]
];
for (const [t, x, y] of titles)
  ov.append("text").text(t).attr("x", x).attr("y", y).attr("text-anchor", "middle")
    .attr("font-weight", "bold").attr("font-size", 19.8).attr("fill", "#1f1f1f");

const panelLabels = [["a. Prices", 77, 52], ["b. Oil", 77, 323], ["c. Gas", 77, 563],
  ["d. Gov. Royalties", 747, 85], ["e. GDP", 717, 322], ["f. Employment", 717, 562]];
for (const [t, x, y] of panelLabels)
  ov.append("text").text(t).attr("x", x).attr("y", y).attr("font-weight", "bold")
    .attr("font-size", 19.5).attr("fill", "#1f1f1f");

const yLabels = [["Price ($/boe)", 18, 150], ["% change oil output", 18, 416], ["% change gas output", 18, 663],
  ["% change royalties", 665, 188], ["% change GDP", 665, 438], ["% change Employment", 665, 666]];
for (const [t, x, y] of yLabels)
  ov.append("text").text(t).attr("transform", `translate(${x},${y}) rotate(-90)`)
    .attr("text-anchor", "middle").attr("dominant-baseline", "central")
    .attr("font-size", 19.5).attr("fill", "#404040");

function legend(items) {
  for (const it of items) {
    ov.append("line").attr("x1", it.x1).attr("x2", it.x2).attr("y1", it.y).attr("y2", it.y)
      .attr("stroke", it.color).attr("stroke-width", it.w || 1.3).attr("stroke-dasharray", it.dash || null);
    ov.append("text").text(it.label).attr("x", it.tx).attr("y", it.y).attr("dominant-baseline", "central")
      .attr("font-size", 15).attr("fill", "#262626");
  }
}
// legend a
const la = [208, 228, 247];
legend([
  {label: "Oil", x1: 78, x2: 100, tx: 104, y: la[0], color: COL.blue},
  {label: "Gas", x1: 78, x2: 100, tx: 104, y: la[1], color: COL.yellow},
  {label: "Coal", x1: 78, x2: 100, tx: 104, y: la[2], color: COL.orange},
  {label: "IEA", x1: 142, x2: 163, tx: 167, y: la[0], color: COL.blue},
  {label: "TDT", x1: 142, x2: 163, tx: 167, y: la[1], color: COL.blue, dash: scenDash.TDT},
  {label: "EU-EA-Net-Zero", x1: 142, x2: 163, tx: 167, y: la[2], color: COL.blue, dash: scenDash["EU-EA-Net-Zero"]},
  {label: "Net-Zero", x1: 203, x2: 226, tx: 230, y: la[1], color: COL.blue, dash: scenDash["Net-Zero"]}
]);
// legend b
const lb = [313, 333, 353, 373, 393];
const rs = (n) => regionStyle[n];
legend([
  {label: "Europe", x1: 137, x2: 159, tx: 162, y: lb[0], color: rs("Europe").color},
  {label: "USA", x1: 137, x2: 159, tx: 162, y: lb[1], color: rs("USA").color},
  {label: "Canada", x1: 160, x2: 183, tx: 186, y: lb[2], color: rs("Canada").color},
  {label: "Russia", x1: 160, x2: 183, tx: 186, y: lb[3], color: rs("Russia").color},
  {label: "Rest OPEC", x1: 218, x2: 240, tx: 245, y: lb[0], color: rs("Rest OPEC").color, dash: "8,5"},
  {label: "Saudi Arabia", x1: 218, x2: 240, tx: 245, y: lb[1], color: rs("Saudi Arabia").color, dash: "8,5"},
  {label: "Latin Am.", x1: 241, x2: 263, tx: 269, y: lb[2], color: rs("Latin Am.").color, dash: "8,5"},
  {label: "ROW", x1: 241, x2: 263, tx: 269, y: lb[3], color: rs("ROW").color, dash: "8,5"},
  {label: "World", x1: 241, x2: 263, tx: 269, y: lb[4], color: "#000", dash: "8,5", w: 2.8}
]);
// legend e
const le = [435, 455, 474, 494, 514, 533];
legend([
  {label: "Europe", x1: 713, x2: 737, tx: 740, y: le[0], color: rs("Europe").color},
  {label: "USA", x1: 713, x2: 737, tx: 740, y: le[1], color: rs("USA").color},
  {label: "Canada", x1: 713, x2: 737, tx: 740, y: le[2], color: rs("Canada").color},
  {label: "Russia", x1: 713, x2: 737, tx: 740, y: le[3], color: rs("Russia").color},
  {label: "China", x1: 713, x2: 737, tx: 740, y: le[4], color: rs("China").color},
  {label: "India", x1: 713, x2: 737, tx: 740, y: le[5], color: rs("India").color},
  {label: "Latin Am.", x1: 797, x2: 820, tx: 824, y: le[2], color: rs("Latin Am.").color, dash: "8,5"},
  {label: "Rest OPEC", x1: 797, x2: 820, tx: 824, y: le[3], color: rs("Rest OPEC").color, dash: "8,5"},
  {label: "Saudi Arabia", x1: 797, x2: 820, tx: 824, y: le[4], color: rs("Saudi Arabia").color, dash: "8,5"},
  {label: "ROW", x1: 797, x2: 820, tx: 824, y: le[5], color: rs("ROW").color, dash: "8,5"},
  {label: "World", x1: 905, x2: 927, tx: 930, y: le[5], color: "#000", dash: "8,5", w: 2.8}
]);
</script></body></html>
